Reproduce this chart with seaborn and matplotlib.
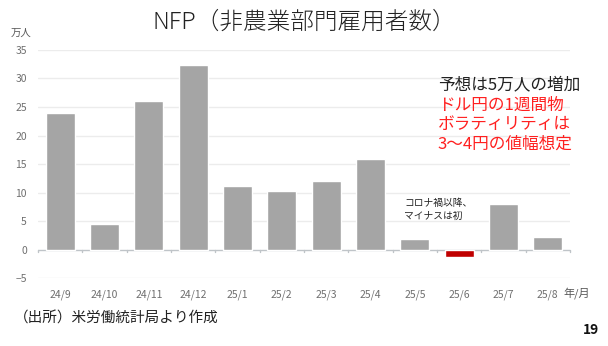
import matplotlib
matplotlib.use("Agg")
import matplotlib.pyplot as plt
import seaborn as sns
import pandas as pd

months = ["24/9", "24/10", "24/11", "24/12", "25/1", "25/2", "25/3", "25/4",
          "25/5", "25/6", "25/7", "25/8"]
values = [24.0, 4.4, 26.0, 32.3, 11.1, 10.2, 12.0, 15.8, 1.9, -1.3, 7.9, 2.2]
yticks = [-5, 0, 5, 10, 15, 20, 25, 30, 35]

sns.set_theme(style="white")
plt.rcParams['font.family'] = ['Noto Sans CJK JP', 'DejaVu Sans']

df = pd.DataFrame({"month": months, "value": values})
palette = {m: ("#c00000" if v < 0 else "#a5a5a5") for m, v in zip(months, values)}

fig = plt.figure(figsize=(6.08, 3.46), dpi=100)
ax = fig.add_axes([0.0625, 0.1965, 0.875, 0.659])

sns.barplot(data=df, x="month", y="value", hue="month", palette=palette,
            legend=False, width=0.66, saturation=1, ax=ax, zorder=2)

ax.set_ylim(-5, 35)
ax.set_xlim(-0.5, len(months) - 0.5)
ax.set_yticks(yticks)
for y in yticks:
    if y != 0:
        ax.axhline(y, color="#ececec", lw=1, zorder=0)
ax.axhline(0, color="#bfc4c8", lw=1, zorder=1)
for b in range(len(months) + 1):
    ax.plot([b - 0.5, b - 0.5], [0, -0.5], color="#bfc4c8", lw=1, zorder=1, clip_on=False)

for s in ax.spines.values():
    s.set_visible(False)
ax.set_xlabel("")
ax.set_ylabel("")
ax.tick_params(axis="both", length=0, labelsize=7.5, labelcolor="#6f6f6f")
ax.tick_params(axis="x", pad=8)
ax.tick_params(axis="y", pad=8)

fig.text(0.5, 0.935, "NFP（非農業部門雇用者数）", ha="center", va="center",
         fontsize=17, fontweight="light", color="#222222")
fig.text(0.018, 0.905, "万人", ha="left", va="center", fontsize=7.5, color="#595959")
fig.text(0.926, 0.153, "年/月", ha="left", va="center", fontsize=8, color="#595959")
fig.text(0.022, 0.08, "（出所）米労働統計局より作成", ha="left", va="center",
         fontsize=10.5, color="#222222")
fig.text(0.985, 0.045, "19", ha="right", va="center", fontsize=10,
         fontweight="bold", color="#111111")

fig.text(0.72, 0.754, "予想は5万人の増加", ha="left", va="center", fontsize=12,
         color="#222222")
red_lines = ["ドル円の1週間物", "ボラティリティは", "3〜4円の値幅想定"]
for i, line in enumerate(red_lines):
    fig.text(0.72, 0.697 - i * 0.057, line, ha="left", va="center", fontsize=12,
             color="#ff2020")
fig.text(0.665, 0.395, "コロナ禍以降、\nマイナスは初", ha="left", va="center",
         fontsize=7, color="#222222", linespacing=1.4)

fig.savefig("out.png", dpi=100, facecolor="white")
